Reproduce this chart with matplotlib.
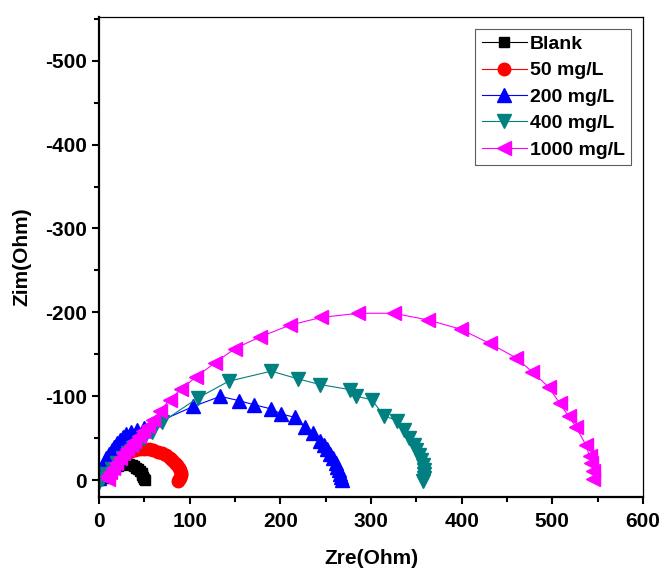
import matplotlib
matplotlib.use("Agg")
import matplotlib.pyplot as plt
from matplotlib.ticker import MultipleLocator

plt.rcParams['font.family'] = ['Liberation Sans', 'DejaVu Sans']
plt.rcParams['font.weight'] = 'bold'
plt.rcParams['axes.unicode_minus'] = False

# Nyquist data (Zre, Zim)
blank_x = [8, 10, 12, 15, 18, 21, 24, 27, 30, 33, 36, 39, 41, 43, 45, 47, 48, 49, 50, 51]
blank_y = [-3, -7, -10, -13, -15, -17, -18, -19, -19, -19, -18, -17, -15, -13, -11, -9, -6, -4, -2, 0]

c50_x = [2, 4, 6, 9, 12, 15, 19, 23, 27, 31, 35, 40, 45, 50, 55, 60, 65, 70, 74, 78,
         81, 84, 86, 88, 89, 90, 90, 89, 88, 87]
c50_y = [-4, -8, -12, -16, -20, -23, -26, -29, -31, -33, -35, -36, -37, -37, -37, -36, -34, -32, -30, -27,
         -24, -21, -18, -15, -12, -9, -6, -3, -1, 1]

c200_x = [0, 1, 3, 5, 8, 11, 14, 17, 20, 23, 26, 30, 35, 42, 50, 104, 134, 154, 171, 190,
          201, 216, 227, 236, 244, 248, 251, 255, 258, 261, 263, 265, 266, 267, 268]
c200_y = [-3, -8, -14, -20, -26, -31, -36, -40, -44, -48, -51, -55, -58, -60, -62, -88, -100, -95, -90, -85,
          -79, -75, -63, -56, -47, -42, -37, -31, -26, -21, -16, -12, -8, -4, 0]

c400_x = [0, 3, 8, 14, 20, 26, 32, 38, 44, 50, 58, 69, 109, 143, 190, 219, 244, 277, 284, 301,
          314, 329, 336, 342, 347, 350, 353, 355, 357, 358, 358, 358, 357]
c400_y = [2, -2, -8, -14, -20, -26, -32, -38, -44, -50, -58, -69, -98, -118, -130, -121, -114, -108, -100, -96,
          -77, -71, -60, -50, -42, -36, -30, -24, -18, -12, -7, -3, 1]

c1000_x = [10, 9, 12, 15, 19, 23, 27, 31, 35, 39, 44, 49, 54, 60, 67, 78, 91, 107, 128, 150,
           178, 211, 245, 286, 325, 363, 399, 431, 460, 478, 496, 508, 518, 526, 537, 541, 543, 545, 545]
c1000_y = [-1, -5, -10, -15, -21, -27, -32, -37, -42, -47, -53, -59, -65, -72, -82, -96, -109, -123, -140, -157,
           -171, -185, -194, -199, -199, -191, -180, -163, -146, -129, -111, -92, -76, -64, -42, -29, -20, -11, -2]

labels = ['Blank', '50 mg/L', '200 mg/L', '400 mg/L', '1000 mg/L']

fig = plt.figure(figsize=(6.62, 5.72), dpi=100)
ax = fig.add_axes([0.1495, 0.131, 0.8218, 0.8393])

ax.plot(blank_x, blank_y, color='black', marker='s', ms=7.5, lw=0.8, label=labels[0])
ax.plot(c50_x, c50_y, color='red', marker='o', ms=9, lw=0.8, label=labels[1])
ax.plot(c200_x, c200_y, color='blue', marker='^', ms=10, lw=0.8, label=labels[2])
ax.plot(c400_x, c400_y, color='#008080', marker='v', ms=10, lw=0.8, label=labels[3])
ax.plot(c1000_x, c1000_y, color='magenta', marker='<', ms=10, lw=0.8, label=labels[4])

ax.set_xlim(0, 600)
ax.set_ylim(20, -552)
ax.xaxis.set_major_locator(MultipleLocator(100))
ax.xaxis.set_minor_locator(MultipleLocator(50))
ax.yaxis.set_major_locator(MultipleLocator(100))
ax.yaxis.set_minor_locator(MultipleLocator(50))
ax.tick_params(which='both', direction='out', width=1.5, labelsize=15)
ax.tick_params(which='major', length=5)
ax.tick_params(which='minor', length=3.5)
ax.tick_params(axis='x', pad=6)
ax.tick_params(top=False, right=False)
for lab in ax.get_xticklabels() + ax.get_yticklabels():
    lab.set_fontweight('bold')

ax.spines['left'].set_linewidth(1.6)
ax.spines['bottom'].set_linewidth(1.6)
ax.spines['top'].set_linewidth(0.9)
ax.spines['right'].set_linewidth(0.9)

ax.set_xlabel('Zre(Ohm)', fontsize=15, fontweight='bold', labelpad=13)
ax.set_ylabel('Zim(Ohm)', fontsize=15, fontweight='bold', labelpad=10)

leg = ax.legend(loc='upper right', fontsize=14, frameon=True, fancybox=False,
                edgecolor='#333333', handlelength=2.3, handletextpad=0.15,
                borderaxespad=0.6, labelspacing=0.45, borderpad=0.35)
leg.get_frame().set_linewidth(0.8)
for t in leg.get_texts():
    t.set_fontweight('bold')

fig.savefig('out.png', dpi=100)
